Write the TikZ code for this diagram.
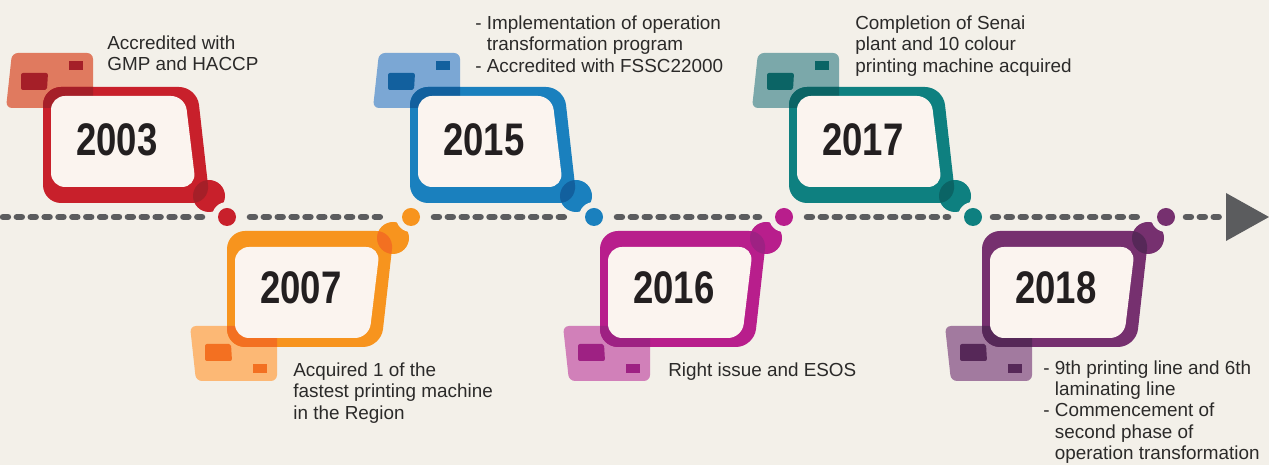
\documentclass[tikz,border=0pt]{standalone}
\usepackage{fontspec}
\setmainfont{Liberation Sans}
\newfontfamily\yearfont{Liberation Sans Bold}[FakeStretch=0.8]

\definecolor{paper}{HTML}{F3F0E9}
\definecolor{framewhite}{HTML}{FBF4EF}
\definecolor{railgray}{HTML}{5B5C5E}
\definecolor{inkgray}{HTML}{2B2A29}
\definecolor{yearink}{HTML}{231F20}
% main, card and dark shade for every year
\definecolor{redM}{HTML}{C8202B}    \definecolor{redL}{HTML}{E07A5F}    \definecolor{redD}{HTML}{A51F28}
\definecolor{orangeM}{HTML}{F7941E} \definecolor{orangeL}{HTML}{FCB875} \definecolor{orangeD}{HTML}{F37021}
\definecolor{blueM}{HTML}{1A80BE}   \definecolor{blueL}{HTML}{7BA7D4}   \definecolor{blueD}{HTML}{12609E}
\definecolor{magentaM}{HTML}{B81E8C}\definecolor{magentaL}{HTML}{D180B9}\definecolor{magentaD}{HTML}{9E2183}
\definecolor{tealM}{HTML}{0E8080}   \definecolor{tealL}{HTML}{7BA8AA}   \definecolor{tealD}{HTML}{0B6465}
\definecolor{purpleM}{HTML}{76306F} \definecolor{purpleL}{HTML}{A27A9F} \definecolor{purpleD}{HTML}{562858}

% one year frame: #1 left edge, #2 1 above the line / -1 below it, #3 colour, #4 year
\newcommand{\yearframe}[4]{%
  \begin{scope}[shift={(#1,217)}, yscale=#2]
    \fill[#3L, rounded corners=0.12cm, cardpath];
    \fill[#3D, rounded corners=0.04cm] (-22,-144) -- (5,-144) -- (4,-127) -- (-22,-127) -- cycle;
    \fill[#3D] (26,-156) rectangle (40,-147);
    \fill[#3M, rounded corners=0.36cm, framepath];
    \begin{scope}
      \clip[rounded corners=0.12cm, cardpath];
      \fill[#3D, rounded corners=0.36cm, framepath];
    \end{scope}
    % bubble on the corner
    \fill[#3M] (166,-21) circle (16);
    \begin{scope}
      \clip (166,-21) circle (16);
      \fill[#3D, rounded corners=0.36cm, framepath];
    \end{scope}
    \fill[paper] (184,0) circle (15);
    \fill[framewhite, rounded corners=0.28cm, innerpath];
    \fill[#3M] (184,0) circle (9);
    \coordinate (dot#4) at (184,0);
    \node[yearlabel] (year#4) at (74,{-74-3*#2}) {#4};
  \end{scope}}

\begin{document}
\begin{tikzpicture}[
        x=0.02cm, y=-0.02cm,
        cardpath/.style={insert path={(-31,-164) -- (50,-164) -- (50,-109) -- (-37,-109) -- cycle}},
        framepath/.style={insert path={(0,-130) -- (154,-130) -- (167,-14) -- (0,-14) -- cycle}},
        innerpath/.style={insert path={(8,-121) -- (142,-121) -- (153,-30) -- (8,-30) -- cycle}},
        yearlabel/.style={font=\yearfont\fontsize{26}{26}\selectfont, text=yearink, inner sep=0pt},
        note/.style={font=\fontsize{10.75}{12.5}\selectfont, text=inkgray, align=left, anchor=north west, inner sep=0pt},
        rail/.style={draw=railgray, line width=3.7pt, line cap=round, dash pattern=on 2.8pt off 5.1pt}
    ]
    \fill[paper] (0,0) rectangle (1269,465);
    \useasboundingbox (0,0) rectangle (1269,465);

    \yearframe{43}{1}{red}{2003}
    \yearframe{227}{-1}{orange}{2007}
    \yearframe{410}{1}{blue}{2015}
    \yearframe{600}{-1}{magenta}{2016}
    \yearframe{789}{1}{teal}{2017}
    \yearframe{982}{-1}{purple}{2018}

    % timeline
    \coordinate (start) at (3,217);
    \coordinate (arrowbase) at (1226,217);
    \fill[railgray] (1226,193) -- (1226,241) -- (1269,217) -- cycle;
    \draw[rail] (start) -- ([xshift=-0.5cm]dot2003);
    \draw[rail] ([xshift=0.46cm]dot2003) -- ([xshift=-0.5cm]dot2007);
    \draw[rail] ([xshift=0.46cm]dot2007) -- ([xshift=-0.5cm]dot2015);
    \draw[rail] ([xshift=0.46cm]dot2015) -- ([xshift=-0.5cm]dot2016);
    \draw[rail] ([xshift=0.46cm]dot2016) -- ([xshift=-0.5cm]dot2017);
    \draw[rail] ([xshift=0.4cm]dot2017) -- ([xshift=-0.5cm]dot2018);
    \draw[rail] ([xshift=0.4cm]dot2018) -- (arrowbase);

    % milestones
    \node[note] (note2003) at (107,35) {Accredited with\\GMP and HACCP};
    \node[note] (note2015) at (475,15) {- Implementation of operation\\\hphantom{- }transformation program\\- Accredited with FSSC22000};
    \node[note] (note2017) at (855,15) {Completion of Senai\\plant and 10 colour\\printing machine acquired};
    \node[note] (note2007) at (293,362) {Acquired 1 of the\\fastest printing machine\\in the Region};
    \node[note] (note2016) at (668,362) {Right issue and ESOS};
    \node[note, font=\fontsize{10.75}{12.2}\selectfont] (note2018) at (1043,360) {- 9th printing line and 6th\\\hphantom{- }laminating line\\- Commencement of\\\hphantom{- }second phase of\\\hphantom{- }operation transformation};
\end{tikzpicture}
\end{document}
